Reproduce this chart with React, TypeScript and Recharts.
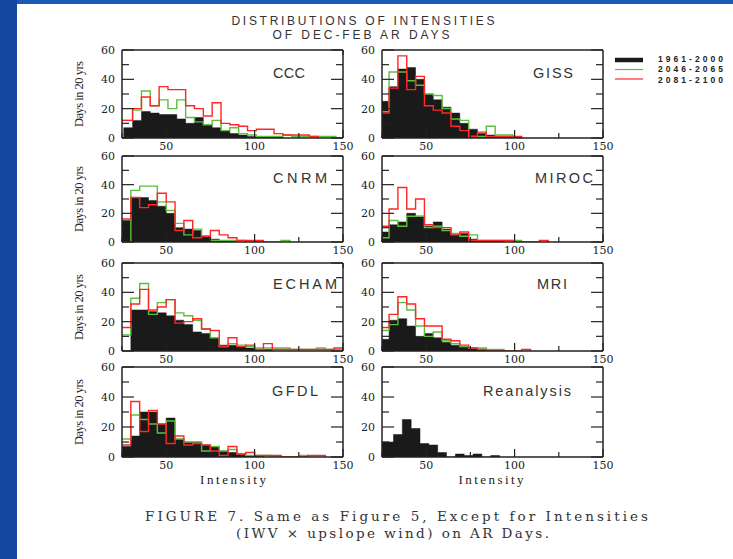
import React from 'react';
import { ComposedChart, Area, Line, XAxis, YAxis } from 'recharts';

// histogram bins are 5 intensity units wide, each panel has its own first edge
const BIN = 5;
const models = ['CCC', 'GISS', 'CNRM', 'MIROC', 'ECHAM', 'MRI', 'GFDL', 'Reanalysis'];
const firstEdge = [21, 24, 25, 24, 25, 24, 25, 21.5];
const periods = ['1961-2000', '2046-2065', '2081-2100'];

// days in 20 yrs per bin, 1961-2000
const base = [
  [0, 7, 12, 18, 17, 16, 16, 13, 10, 14, 9, 7, 5, 3, 2, 1, 1, 1, 1],
  [25, 35, 47, 48, 40, 30, 26, 21, 17, 10, 6, 3, 2, 1, 1, 1],
  [15, 31, 31, 29, 25, 20, 10, 9, 8, 4, 2, 1, 1],
  [7, 12, 14, 20, 18, 11, 14, 9, 5, 6, 2, 1, 1, 1],
  [0, 28, 28, 27, 26, 24, 21, 18, 13, 12, 9, 4, 4, 3, 2, 1, 1],
  [8, 21, 22, 17, 10, 12, 9, 6, 4, 3, 2, 1, 1, 1],
  [7, 14, 30, 30, 22, 26, 12, 10, 10, 8, 7, 4, 3, 2, 1, 1],
  [10, 10, 15, 25, 19, 9, 8, 3, 0, 2, 1, 2, 0, 1],
];
// 2046-2065
const mid = [
  [12, 12, 19, 32, 22, 26, 20, 26, 14, 11, 9, 12, 5, 7, 3, 2, 1, 1, 1, 2, 1, 1, 1, 1, 1],
  [18, 45, 45, 39, 36, 30, 29, 20, 13, 12, 1, 1, 8, 2, 2],
  [0, 36, 39, 39, 28, 22, 13, 5, 9, 4, 1, 1, 1, 1, 0, 0, 0, 0, 1],
  [3, 15, 11, 18, 18, 10, 11, 8, 6, 4, 5, 1, 1, 1, 1, 1],
  [11, 36, 46, 25, 33, 35, 26, 24, 21, 15, 9, 3, 5, 4, 3, 2, 2, 2, 2, 1, 1, 1, 2, 1, 1],
  [14, 18, 33, 28, 17, 10, 13, 7, 5, 3, 2, 2, 1, 1],
  [12, 28, 25, 22, 16, 24, 12, 10, 10, 4, 7, 4, 5, 2, 1, 1, 1, 0, 0, 0, 1],
  [],
];
// 2081-2100
const late = [
  [12, 12, 20, 28, 22, 35, 33, 33, 22, 20, 15, 24, 10, 9, 8, 5, 6, 6, 3, 2, 2, 2, 1],
  [17, 34, 56, 33, 42, 22, 19, 17, 8, 5, 1, 4, 1, 1, 1, 1],
  [16, 31, 24, 26, 34, 28, 8, 15, 3, 4, 8, 5, 3, 1, 1, 1],
  [11, 23, 38, 23, 30, 12, 10, 10, 5, 7, 1, 1, 1, 1, 1, 0, 0, 0, 1],
  [16, 32, 42, 28, 30, 35, 19, 20, 22, 15, 14, 3, 9, 3, 4, 1, 5, 1, 1, 1, 1, 1, 1, 1, 2],
  [16, 25, 37, 32, 22, 17, 17, 8, 7, 4, 2, 1, 0, 0, 0, 0, 1],
  [8, 37, 17, 31, 22, 9, 14, 8, 9, 8, 4, 1, 7, 2, 3, 1, 1, 1, 0, 0, 0, 1, 1],
  [],
];

const xTicks = [25, 50, 75, 100, 125, 150];
const xLabels = [50, 100, 150];
const yTicks = [0, 10, 20, 30, 40, 50, 60];
const yLabels = [0, 20, 40, 60];

const BLACK = '#1a1a1a';
const GREEN = '#5cbf3c';
const RED = '#ff2626';
const FRAME = '#222';

// layout
const colLeft = [122, 382];
const rowTop = [50, 156, 263, 367];
const rowH = [88, 86, 88, 90];
const PLOT_W = 221;
const M = { top: 8, right: 14, bottom: 20, left: 30 };
const AX = 1; // thickness reserved by each axis
// panel name boxes: x, baseline, width
const nameBox = [
  [273, 78, 32], [533, 78, 40], [273, 183, 54], [535, 183, 58],
  [273, 289, 64], [537, 289, 30], [272, 396, 46], [483, 396, 88],
];

function pick(vals: number[], i: number) {
  if (!vals.length) return null;
  let last = vals.length - 1;
  while (last >= 0 && vals[last] === 0) last--;
  if (i <= last) return vals[i];
  if (i === last + 1) return 0;
  return null;
}

function rows(p: number) {
  const n = Math.max(base[p].length, mid[p].length, late[p].length) + 1;
  return Array.from({ length: n }, (_, i) => ({
    x: firstEdge[p] + i * BIN,
    base: pick(base[p], i),
    mid: pick(mid[p], i),
    late: pick(late[p], i),
  }));
}

const numFont = { fontFamily: 'DejaVu Serif', fontSize: 11, fill: '#222' };

function xTick(side: 'bottom' | 'top') {
  return (props: any) => {
    const { x, y, payload } = props;
    const major = xLabels.includes(payload.value);
    const len = major ? 8 : 5;
    const dir = side === 'bottom' ? -1 : 1;
    return (
      <g>
        <line x1={x} y1={y} x2={x} y2={y + dir * len} stroke={FRAME} strokeWidth={1.2} />
        {side === 'bottom' && major && (
          <text x={x} y={y + 12} textAnchor="middle" {...numFont}>{payload.value}</text>
        )}
      </g>
    );
  };
}

function yTick(side: 'left' | 'right') {
  return (props: any) => {
    const { x, y, payload } = props;
    const major = yLabels.includes(payload.value);
    const len = major ? 12 : 7;
    const dir = side === 'left' ? 1 : -1;
    return (
      <g>
        <line x1={x} y1={y} x2={x + dir * len} y2={y} stroke={FRAME} strokeWidth={1.2} />
        {side === 'left' && major && (
          <text x={x - 7} y={y + 4} textAnchor="end" {...numFont}>{payload.value}</text>
        )}
      </g>
    );
  };
}

const axisLine = { stroke: FRAME, strokeWidth: 1.5 };

function Panel({ p }: { p: number }) {
  const row = Math.floor(p / 2);
  const col = p % 2;
  const h = rowH[row];
  return (
    <div style={{ position: 'absolute', left: colLeft[col] - M.left - AX, top: rowTop[row] - M.top - AX }}>
      <ComposedChart
        width={M.left + PLOT_W + M.right + 2 * AX}
        height={M.top + h + M.bottom + 2 * AX}
        data={rows(p)}
        margin={M}
        style={{ overflow: 'visible' }}
      >
        <XAxis dataKey="x" type="number" domain={[25, 150]} allowDataOverflow ticks={xTicks}
          interval={0} height={AX} tickSize={0} tickMargin={0} tickLine={false}
          axisLine={axisLine} tick={xTick('bottom')} />
        <XAxis xAxisId="top" orientation="top" type="number" domain={[25, 150]} allowDataOverflow
          ticks={xTicks} interval={0} height={AX} tickSize={0} tickMargin={0} tickLine={false}
          axisLine={axisLine} tick={xTick('top')} />
        <YAxis type="number" domain={[0, 60]} allowDataOverflow ticks={yTicks} interval={0}
          width={AX} tickSize={0} tickMargin={0} tickLine={false} axisLine={axisLine} tick={yTick('left')} />
        <YAxis yAxisId="right" orientation="right" type="number" domain={[0, 60]} allowDataOverflow
          ticks={yTicks} interval={0} width={AX} tickSize={0} tickMargin={0} tickLine={false}
          axisLine={axisLine} tick={yTick('right')} />
        <Area type="stepAfter" dataKey="base" fill={BLACK} fillOpacity={1} stroke={BLACK}
          strokeWidth={0.5} isAnimationActive={false} />
        {mid[p].length > 0 && (
          <Line type="stepAfter" dataKey="mid" stroke={GREEN} strokeWidth={1.4} dot={false}
            isAnimationActive={false} />
        )}
        {late[p].length > 0 && (
          <Line type="stepAfter" dataKey="late" stroke={RED} strokeWidth={1.4} dot={false}
            isAnimationActive={false} />
        )}
      </ComposedChart>
    </div>
  );
}

const sans = 'Liberation Sans, Arial, sans-serif';
const serif = 'Liberation Serif, Times New Roman, serif';

export default function App() {
  return (
    <div style={{ position: 'absolute', left: 0, top: 0, width: 733, height: 559, background: '#1b5bb8', overflow: 'hidden' }}>
      <div style={{ position: 'absolute', left: 0, top: 0, width: 17, height: 559, background: '#1447a0' }} />
      <div style={{ position: 'absolute', left: 17, top: 4, right: 0, bottom: 0, background: '#fff' }} />
      {models.map((_, p) => <Panel key={p} p={p} />)}
      <svg width={733} height={559} style={{ position: 'absolute', left: 0, top: 0, pointerEvents: 'none' }}>
        <text x={363} y={25} textAnchor="middle" textLength={263} fontFamily={sans} fontSize={12} fill="#333">
          DISTRIBUTIONS OF INTENSITIES
        </text>
        <text x={361} y={38.5} textAnchor="middle" textLength={177} fontFamily={sans} fontSize={12} fill="#333">
          OF DEC-FEB AR DAYS
        </text>
        {models.map((m, p) => (
          <text key={m} x={nameBox[p][0]} y={nameBox[p][1]} textLength={nameBox[p][2]}
            fontFamily={sans} fontSize={14.5} fill="#333">{m}</text>
        ))}
        {rowTop.map((t, r) => (
          <text key={r} transform={`translate(83, ${t + rowH[r] / 2}) rotate(-90)`} textAnchor="middle"
            textLength={66} fontFamily={serif} fontSize={12.5} fill="#222">Days in 20 yrs</text>
        ))}
        <text x={233} y={484} textAnchor="middle" textLength={66} fontFamily={serif} fontSize={13} fill="#222">Intensity</text>
        <text x={491} y={484} textAnchor="middle" textLength={65} fontFamily={serif} fontSize={13} fill="#222">Intensity</text>
        {periods.map((lab, i) => (
          <g key={lab}>
            <line x1={615} x2={643} y1={60 + i * 9.5} y2={60 + i * 9.5}
              stroke={[BLACK, GREEN, RED][i]} strokeWidth={i === 0 ? 4.5 : 1.2} />
            <text x={658} y={61.5 + i * 10.5} textLength={65} fontFamily={sans} fontWeight="bold"
              fontSize={8.5} fill="#222">{lab}</text>
          </g>
        ))}
        <text x={145} y={521} textLength={503} fontFamily="DejaVu Serif" fontSize={13.5} fill="#333">
          FIGURE 7.  Same as Figure 5, Except for Intensities
        </text>
        <text x={236} y={538} textLength={313} fontFamily="DejaVu Serif" fontSize={13.5} fill="#333">
          (IWV × upslope wind) on AR Days.
        </text>
      </svg>
    </div>
  );
}
